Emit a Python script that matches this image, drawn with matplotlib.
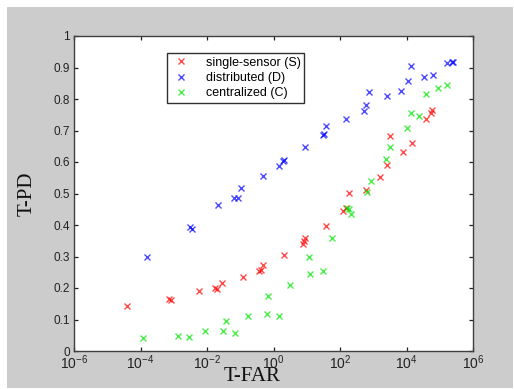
import math
import matplotlib
matplotlib.use("Agg")
import matplotlib.pyplot as plt
from matplotlib.patches import Rectangle
from matplotlib.ticker import FixedLocator, NullLocator, FuncFormatter

# T-FAR / T-PD pairs for the three fusion schemes
single_far = [3.85e-5, 7.4e-4, 8.5e-4, 5.9e-3, 1.75e-2, 2.06e-2, 2.92e-2, 0.117,
              0.361, 0.426, 0.50, 2.14, 7.46, 8.0, 8.97, 37.6, 125, 154, 181,
              617, 1585, 2630, 3240, 7760, 14800, 38500, 55600, 56900]
single_pd = [0.144, 0.164, 0.162, 0.191, 0.201, 0.198, 0.217, 0.235,
             0.255, 0.258, 0.274, 0.305, 0.341, 0.350, 0.360, 0.398, 0.443, 0.453, 0.503,
             0.510, 0.551, 0.589, 0.684, 0.633, 0.659, 0.735, 0.754, 0.764]

dist_far = [1.55e-4, 3.09e-3, 3.47e-3, 2.21e-2, 6.7e-2, 8.43e-2, 0.109, 0.467,
            1.51, 1.91, 2.05, 8.57, 31.3, 33.5, 38.5, 154, 512, 587, 724,
            2510, 6610, 10800, 13200, 32700, 61100, 162000, 234000, 245000]
dist_pd = [0.297, 0.393, 0.386, 0.463, 0.486, 0.486, 0.516, 0.554,
           0.586, 0.602, 0.605, 0.647, 0.686, 0.689, 0.715, 0.735, 0.761, 0.782, 0.823,
           0.811, 0.826, 0.858, 0.905, 0.870, 0.875, 0.914, 0.917, 0.918]

cent_far = [1.22e-4, 1.38e-3, 2.88e-3, 8.57e-3, 3.13e-2, 3.67e-2, 7.18e-2, 0.169,
            0.644, 0.69, 1.51, 3.24, 11.3, 12.1, 31.3, 55.7, 165, 186, 208,
            661, 851, 2340, 3240, 10500, 13200, 24500, 38500, 88300, 162000]
cent_pd = [0.042, 0.049, 0.046, 0.064, 0.064, 0.095, 0.057, 0.110,
           0.119, 0.175, 0.110, 0.209, 0.297, 0.245, 0.255, 0.360, 0.454, 0.450, 0.436,
           0.504, 0.541, 0.608, 0.647, 0.709, 0.757, 0.745, 0.817, 0.834, 0.846]

series_labels = ["single-sensor (S)", "distributed (D)", "centralized (C)"]
x_ticks = [1e-6, 1e-4, 1e-2, 1e0, 1e2, 1e4, 1e6]
y_ticks = [0, 0.1, 0.2, 0.3, 0.4, 0.5, 0.6, 0.7, 0.8, 0.9, 1]

plt.rcParams["mathtext.fontset"] = "custom"
plt.rcParams["mathtext.rm"] = "Liberation Sans"
plt.rcParams["mathtext.it"] = "Liberation Sans"
plt.rcParams["mathtext.bf"] = "Liberation Sans"


def power_label(v, pos):
    return r"$\mathregular{10^{%d}}$" % round(math.log10(v))


W, H = 514, 389
fig = plt.figure(figsize=(W / 100, H / 100), dpi=100, facecolor="white")
# grey window area behind the axes
fig.patches.append(Rectangle((7 / W, 1 / H), 506 / W, 381 / H,
                             transform=fig.transFigure, facecolor="#cccccc",
                             edgecolor="none", zorder=-5))

ax = fig.add_axes([74 / W, 1 - 351 / H, 399 / W, 315 / H])
ax.set_facecolor("white")

mk = dict(marker="x", linestyle="none", markersize=4, markeredgewidth=1.0, alpha=0.7)
ax.plot(single_far, single_pd, color=(1, 0, 0), label=series_labels[0], **mk)
ax.plot(dist_far, dist_pd, color=(0, 0, 1), label=series_labels[1], **mk)
ax.plot(cent_far, cent_pd, color=(0, 0.9, 0), label=series_labels[2], **mk)

ax.set_xscale("log")
ax.set_xlim(1e-6, 1e6)
ax.set_ylim(0, 1)
ax.xaxis.set_major_locator(FixedLocator(x_ticks))
ax.xaxis.set_minor_locator(NullLocator())
ax.xaxis.set_major_formatter(FuncFormatter(power_label))
ax.yaxis.set_major_locator(FixedLocator(y_ticks))
ax.yaxis.set_major_formatter(FuncFormatter(lambda v, p: f"{v:g}"))

for s in ax.spines.values():
    s.set_color("#404040")
    s.set_linewidth(1.0)

ax.tick_params(direction="in", length=3, width=0.9, color="#202020",
               top=True, right=True, labelcolor="#222222", pad=3)
ax.tick_params(axis="y", labelsize=8.5)
ax.tick_params(axis="x", labelsize=10, pad=2)
for lab in ax.get_xticklabels() + ax.get_yticklabels():
    lab.set_family("Liberation Sans")

ax.set_xlabel("T-FAR", family="Liberation Serif", fontsize=15, color="#111111")
ax.set_ylabel("T-PD", family="Liberation Serif", fontsize=15, color="#111111")
ax.xaxis.set_label_coords(0.446, -0.05)
ax.xaxis.label.set_va("top")
ax.yaxis.set_label_coords(-0.118, 0.5)
ax.yaxis.label.set_va("center")

leg = ax.legend(loc="upper left", bbox_to_anchor=(0.233, 0.946),
                prop={"family": "Liberation Sans", "size": 9},
                fancybox=False, framealpha=1, edgecolor="#303030",
                borderpad=0.3, labelspacing=0.25, handlelength=1.7,
                handletextpad=1.1, borderaxespad=0, markerscale=1.0)
leg.get_frame().set_linewidth(1.0)

fig.savefig("out.png", dpi=100)
